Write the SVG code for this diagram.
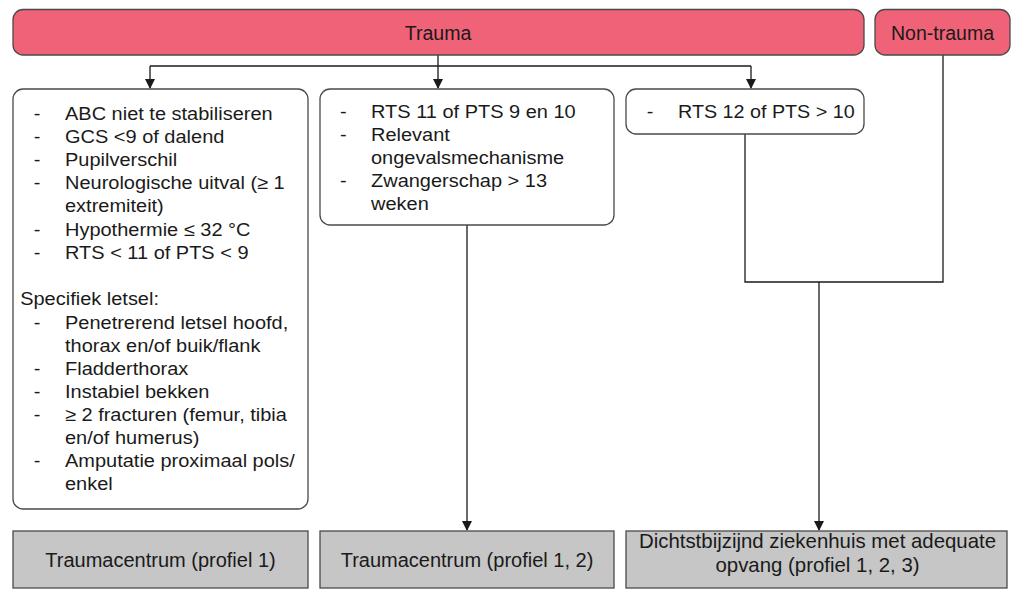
<svg xmlns="http://www.w3.org/2000/svg" width="1011" height="589" viewBox="0 0 1011 589">
<style>
text{font-family:"Liberation Sans",Arial,sans-serif;fill:#1a1a1a}
.t{font-size:18.5px}
.h{font-size:19.5px}
.b{font-size:20px}
.red{fill:#f06277;stroke:#4a4a4a;stroke-width:1.3}
.box{fill:#fff;stroke:#4a4a4a;stroke-width:1.3}
.gray{fill:#c6c6c6;stroke:#4a4a4a;stroke-width:1.3}
.ln{fill:none;stroke:#1a1a1a;stroke-width:1.3}
</style>
<defs>
<marker id="ar" markerWidth="10" markerHeight="12" refX="9" refY="5" orient="auto" markerUnits="userSpaceOnUse">
<path d="M0,0 L10,5 L0,10 Z" fill="#1a1a1a"/>
</marker>
</defs>
<rect width="1011" height="589" fill="#fff"/>
<g id="connectors">
<path class="ln" d="M438,55 V66"/>
<path class="ln" d="M150,66 H751"/>
<path class="ln" d="M150,66 V88" marker-end="url(#ar)"/>
<path class="ln" d="M438,66 V88" marker-end="url(#ar)"/>
<path class="ln" d="M751,66 V88" marker-end="url(#ar)"/>
<path class="ln" d="M467,225 V530" marker-end="url(#ar)"/>
<path class="ln" d="M745,134 V282 H943 V55"/>
<path class="ln" d="M819,282 V530" marker-end="url(#ar)"/>
</g>
<g id="trauma">
<rect class="red" x="13" y="9.5" width="851" height="45.5" rx="10"/>
<text class="h" x="438" y="40" text-anchor="middle">Trauma</text>
</g>
<g id="non-trauma">
<rect class="red" x="875" y="9.5" width="135" height="45.5" rx="10"/>
<text class="h" x="942.5" y="40" text-anchor="middle">Non-trauma</text>
</g>
<g id="criteria-1">
<rect class="box" x="13" y="89" width="295" height="420" rx="10"/>
<g class="t" transform="matrix(1.08,0,0,1,-5.2,0)">
<text x="36" y="120">-</text><text x="65" y="120">ABC niet te stabiliseren</text>
<text x="36" y="143">-</text><text x="65" y="143">GCS &lt;9 of dalend</text>
<text x="36" y="166">-</text><text x="65" y="166">Pupilverschil</text>
<text x="36" y="189">-</text><text x="65" y="189">Neurologische uitval (≥ 1</text>
<text x="65" y="212">extremiteit)</text>
<text x="36" y="236">-</text><text x="65" y="236">Hypothermie ≤ 32 °C</text>
<text x="36" y="259">-</text><text x="65" y="259">RTS &lt; 11 of PTS &lt; 9</text>
<text x="23.5" y="305">Specifiek letsel:</text>
<text x="36" y="329">-</text><text x="65" y="329">Penetrerend letsel hoofd,</text>
<text x="65" y="352">thorax en/of buik/flank</text>
<text x="36" y="375">-</text><text x="65" y="375">Fladderthorax</text>
<text x="36" y="398">-</text><text x="65" y="398">Instabiel bekken</text>
<text x="36" y="421">-</text><text x="65" y="421">≥ 2 fracturen (femur, tibia</text>
<text x="65" y="444">en/of humerus)</text>
<text x="36" y="467">-</text><text x="65" y="467">Amputatie proximaal pols/</text>
<text x="65" y="490">enkel</text>
</g>
</g>
<g id="criteria-2">
<rect class="box" x="320" y="89" width="294" height="136" rx="10"/>
<g class="t" transform="matrix(1.08,0,0,1,-29.68,0)">
<text x="342.3" y="118">-</text><text x="371" y="118">RTS 11 of PTS 9 en 10</text>
<text x="342.3" y="141">-</text><text x="371" y="141">Relevant</text>
<text x="371" y="164">ongevalsmechanisme</text>
<text x="342.3" y="187">-</text><text x="371" y="187">Zwangerschap &gt; 13</text>
<text x="371" y="210">weken</text>
</g>
</g>
<g id="criteria-3">
<rect class="box" x="626" y="89" width="238" height="45" rx="10"/>
<g class="t" transform="matrix(1.067,0,0,1,-45.43,0)">
<text x="648.7" y="118">-</text><text x="678" y="118">RTS 12 of PTS &gt; 10</text>
</g>
</g>
<g id="dest-1">
<rect class="gray" x="13" y="531" width="295" height="57"/>
<text class="b" x="160.5" y="567" text-anchor="middle">Traumacentrum (profiel 1)</text>
</g>
<g id="dest-2">
<rect class="gray" x="320" y="531" width="294" height="57"/>
<text class="b" x="467" y="567" text-anchor="middle">Traumacentrum (profiel 1, 2)</text>
</g>
<g id="dest-3">
<rect class="gray" x="626" y="531" width="381" height="57"/>
<text class="b" x="817.5" y="548" text-anchor="middle" style="font-size:20.4px">Dichtstbijzijnd ziekenhuis met adequate</text>
<text class="b" x="817.5" y="572" text-anchor="middle" style="font-size:20.4px">opvang (profiel 1, 2, 3)</text>
</g>
</svg>
